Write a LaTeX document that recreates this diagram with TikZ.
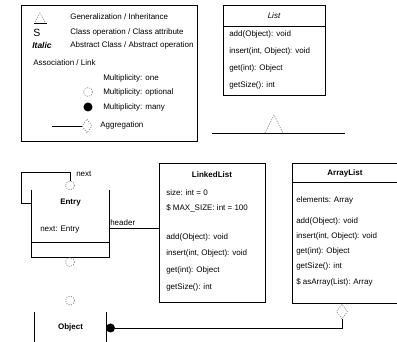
\documentclass[tikz,border=0pt]{standalone}
\usepackage{fontspec}
\setmainfont{Liberation Sans}
\usetikzlibrary{shapes.geometric}

\begin{document}
\begin{tikzpicture}[
x=1pt, y=-1pt, line width=0.6pt,
every node/.style={font=\fontsize{8}{10}\selectfont},
box/.style={rectangle, draw, inner sep=0pt},
openbox/.style={rectangle, inner sep=0pt},
member/.style={anchor=west, inner sep=0pt},
title/.style={inner sep=0pt, font=\fontsize{8}{10}\selectfont\bfseries},
optc/.style={circle, draw=black!50, dash pattern=on 1.2pt off 1.2pt, minimum size=9pt, inner sep=0pt},
manyc/.style={circle, fill, minimum size=9pt, inner sep=0pt},
aggr/.style={diamond, draw=black!50, dash pattern=on 1.2pt off 1.2pt, minimum width=11pt, minimum height=15pt, inner sep=0pt},
gen/.style={draw=black!50, dash pattern=on 1.2pt off 1.2pt}
]
\useasboundingbox (0,0) rectangle (397,342);

\node[box, minimum width=176pt, minimum height=136pt] (legend) at (109,73) {};
\coordinate (lgtri) at (40,22);
\draw[gen] (lgtri) ++(-5,0) -- ++(5,-9) -- ++(5,9);
\draw ([xshift=-6pt, yshift=-1.5pt]lgtri) -- ([xshift=7pt, yshift=-1.5pt]lgtri);
\node[font=\fontsize{10.5}{12}\selectfont] (lgs) at (37,32.5) {S};
\node[font=\fontsize{8.5}{10}\selectfont\bfseries\itshape] (lgit) at (42,45) {Italic};
\node[member] (lggen) at (70,16.5) {Generalization / Inheritance};
\node[member] (lgclass) at (70,32) {Class operation / Class attribute};
\node[member] (lgabs) at (70,45) {Abstract Class / Abstract operation};
\node[member] (lgassoc) at (33,63) {Association / Link};
\node[member] (lgone) at (103,78) {Multiplicity: one};
\node[optc] (lgopt) at (88,92) {};
\node[member] (lgopttxt) at (103,92) {Multiplicity: optional};
\node[manyc] (lgmany) at (88,107) {};
\node[member] (lgmanytxt) at (103,107) {Multiplicity: many};
\node[aggr, minimum width=10pt, minimum height=14pt] (lgagg) at (87,126) {};
\coordinate (lgline) at (52,126);
\draw (lgline) -- (lgagg.west);
\node[member] (lgaggtxt) at (100,125) {Aggregation};

\node[box, minimum width=102pt, minimum height=90pt] (list) at (274,50) {};
\draw ([yshift=-22pt]list.north west) -- ([yshift=-22pt]list.north east);
\node[font=\fontsize{8}{10}\selectfont\itshape] (listname) at (274,16) {List};
\node[member] (listadd) at (229,34) {add(Object): void};
\node[member] (listins) at (229,51) {insert(int, Object): void};
\node[member] (listget) at (229,68) {get(int): Object};
\node[member] (listsize) at (229,85) {getSize(): int};

\coordinate (genl) at (212,133);
\coordinate (genr) at (345,133);
\coordinate (gentop) at (274,133);
\draw (genl) -- (genr);
\draw[gen] (gentop) ++(-9,0) -- ++(9,-18) -- ++(9,18);

\node[openbox, minimum width=77pt, minimum height=67pt] (entry) at (70.5,223.5) {};
\draw (entry.north west) -- (entry.south west) -- (entry.south east) -- (entry.north east);
\draw ([yshift=15pt]entry.south west) -- ([yshift=15pt]entry.south east);
\node[title] (entryname) at (70.5,203) {Entry};
\node[member] (entrynext) at (40,230) {next: Entry};

\node[box, minimum width=106pt, minimum height=139pt] (linked) at (212,232.5) {};
\node[title] (linkedname) at (212,175) {LinkedList};
\node[member] (linkedsize) at (166,193) {size: int = 0};
\node[member] (linkedmax) at (166,208) {\$ MAX\_SIZE: int = 100};
\node[member] (linkedadd) at (166,237) {add(Object): void};
\node[member] (linkedins) at (166,253) {insert(int, Object): void};
\node[member] (linkedget) at (166,270) {get(int): Object};
\node[member] (linkedgs) at (166,287) {getSize(): int};

\node[box, minimum width=106pt, minimum height=140pt] (array) at (345,233) {};
\draw ([yshift=-20pt]array.north west) -- ([yshift=-20pt]array.north east);
\node[title] (arrayname) at (345,173) {ArrayList};
\node[member] (arrayel) at (296,200) {elements: Array};
\node[member] (arrayadd) at (296,221) {add(Object): void};
\node[member] (arrayins) at (296,236) {insert(int, Object): void};
\node[member] (arrayget) at (296,251) {get(int): Object};
\node[member] (arraygs) at (296,266) {getSize(): int};
\node[member] (arrayas) at (296,282) {\$ asArray(List): Array};

\node[openbox, minimum width=71pt, minimum height=40pt] (object) at (70.5,332) {};
\draw (object.south west) -- (object.north west);
\draw (object.north east) -- (object.south east);
\node[title] (objectname) at (70.5,327) {Object};

\node[optc] (nextend) at (70,185.5) {};
\node[optc] (entryend) at (70,262) {};
\node[optc] (objectend) at (70,300.5) {};
\node[manyc] (arraymany) at (110.5,328) {};
\node[aggr] (arrayaggr) at (342,311.5) {};

\coordinate (loopc) at (21,172);
\draw ([yshift=20.5pt]entry.west) -| (loopc) -| (nextend.north);
\node[member] (nextlbl) at (76,174) {next};
\draw ([yshift=-4.5pt]entry.east) -- ([yshift=4.5pt]linked.west);
\node[anchor=south west, inner sep=1pt] (hdrlbl) at (109,227) {header};
\draw (arraymany.east) -| (arrayaggr.south);

\end{tikzpicture}
\end{document}
